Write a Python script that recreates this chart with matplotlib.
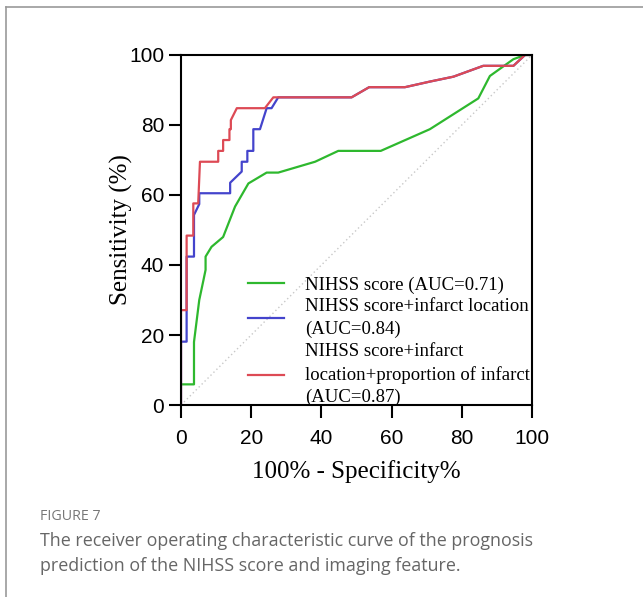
import matplotlib
matplotlib.use("Agg")
import matplotlib.pyplot as plt
from matplotlib.lines import Line2D

# ROC curves (x = 100% - specificity, y = sensitivity)
green_x = [0, 3.7, 3.7, 5.2, 6.4, 7.0, 7.0, 8.7, 12.0, 15.4, 19.2, 24.4, 27.7, 38.2, 44.8,
           56.9, 70.9, 84.7, 88.0, 94.7, 98.0, 100]
green_y = [5.9, 5.9, 18.0, 30.0, 35.7, 38.6, 42.4, 45.2, 48.0, 56.7, 63.3, 66.4, 66.4, 69.5, 72.6,
           72.6, 78.8, 87.6, 94.0, 98.8, 100, 100]

blue_x = [0, 0, 1.6, 1.6, 3.7, 3.7, 5.2, 5.2, 14.0, 14.0, 17.3, 17.3, 18.9, 18.9, 20.6, 20.6,
          22.5, 24.4, 25.8, 27.7, 45.3, 48.6, 53.6, 63.8, 70.9, 77.6, 86.1, 94.7, 98.0, 100]
blue_y = [0, 18.1, 18.1, 42.4, 42.4, 54.3, 57.4, 60.5, 60.5, 63.5, 66.7, 69.5, 69.5, 72.6, 72.6, 78.8,
          78.8, 84.8, 84.8, 87.9, 87.9, 87.9, 90.8, 90.8, 92.4, 93.8, 96.9, 96.9, 100, 100]

red_x = [0, 0, 1.6, 1.6, 3.5, 3.5, 4.9, 5.4, 10.6, 10.6, 12.0, 12.0, 13.8, 13.8, 14.2, 14.2,
         15.9, 23.9, 26.3, 45.3, 48.6, 53.6, 63.8, 70.9, 77.6, 86.1, 94.7, 98.0, 100]
red_y = [0, 27.1, 27.1, 48.4, 48.4, 57.6, 57.6, 69.5, 69.5, 72.6, 72.6, 75.7, 75.7, 78.8, 78.8, 81.4,
         84.8, 84.8, 87.9, 87.9, 87.9, 90.8, 90.8, 92.4, 93.8, 96.9, 96.9, 100, 100]

labels = ["NIHSS score (AUC=0.71)",
          "NIHSS score+infarct location\n(AUC=0.84)",
          "NIHSS score+infarct\nlocation+proportion of infarct\n(AUC=0.87)"]
colors = ["#2eb82e", "#4444cc", "#dd4a55"]
ticks = [0, 20, 40, 60, 80, 100]

fig = plt.figure(figsize=(6.43, 5.97), dpi=100)
ax = fig.add_axes([0.2815, 0.3216, 0.5459, 0.5863])

ax.plot([0, 100], [0, 100], color="#c8c8c8", lw=1, linestyle=(0, (1, 2)))
ax.plot(green_x, green_y, color=colors[0], lw=1.6)
ax.plot(blue_x, blue_y, color=colors[1], lw=1.6)
ax.plot(red_x, red_y, color=colors[2], lw=1.6)

ax.set_xlim(0, 100)
ax.set_ylim(0, 100)
ax.set_xticks(ticks)
ax.set_yticks(ticks)
for sp in ax.spines.values():
    sp.set_linewidth(1.5)
ax.tick_params(axis="both", length=9, width=1.5, labelsize=15)
ax.tick_params(axis="x", pad=8)
ax.tick_params(axis="y", pad=3)
for t in ax.get_xticklabels() + ax.get_yticklabels():
    t.set_fontfamily("Liberation Sans")

ax.set_xlabel("100% - Specificity%", fontname="Liberation Serif", fontsize=18, labelpad=9)
ax.set_ylabel("Sensitivity (%)", fontname="Liberation Serif", fontsize=18)
ax.yaxis.set_label_coords(-0.137, 0.5)

handles = [Line2D([], [], color=c, lw=1.6) for c in colors]
leg = ax.legend(handles, labels, loc="lower left", bbox_to_anchor=(0.19, -0.004), frameon=False,
                prop={"family": "Liberation Serif", "size": 13.5}, handlelength=1.95,
                handletextpad=1.1, labelspacing=0.25, borderpad=0, borderaxespad=0)
for t in leg.get_texts():
    t.set_linespacing(1.42)

# border and caption of the figure panel
fig.add_artist(Line2D([6 / 643, 1], [1 - 7 / 597, 1 - 7 / 597], color="#999999", lw=1.2))
fig.add_artist(Line2D([6 / 643, 6 / 643], [0, 1 - 7 / 597], color="#999999", lw=1.2))
fig.text(40 / 643, 1 - 516 / 597, "FIGURE 7", fontname="Open Sans", fontsize=10.3,
         color="#777777", va="center")
fig.text(40 / 643, 1 - 541 / 597, "The receiver operating characteristic curve of the prognosis",
         fontname="Open Sans", fontsize=12.9, color="#666666", va="center")
fig.text(40 / 643, 1 - 566 / 597, "prediction of the NIHSS score and imaging feature.",
         fontname="Open Sans", fontsize=12.9, color="#666666", va="center")

fig.savefig("out.png", dpi=100)
